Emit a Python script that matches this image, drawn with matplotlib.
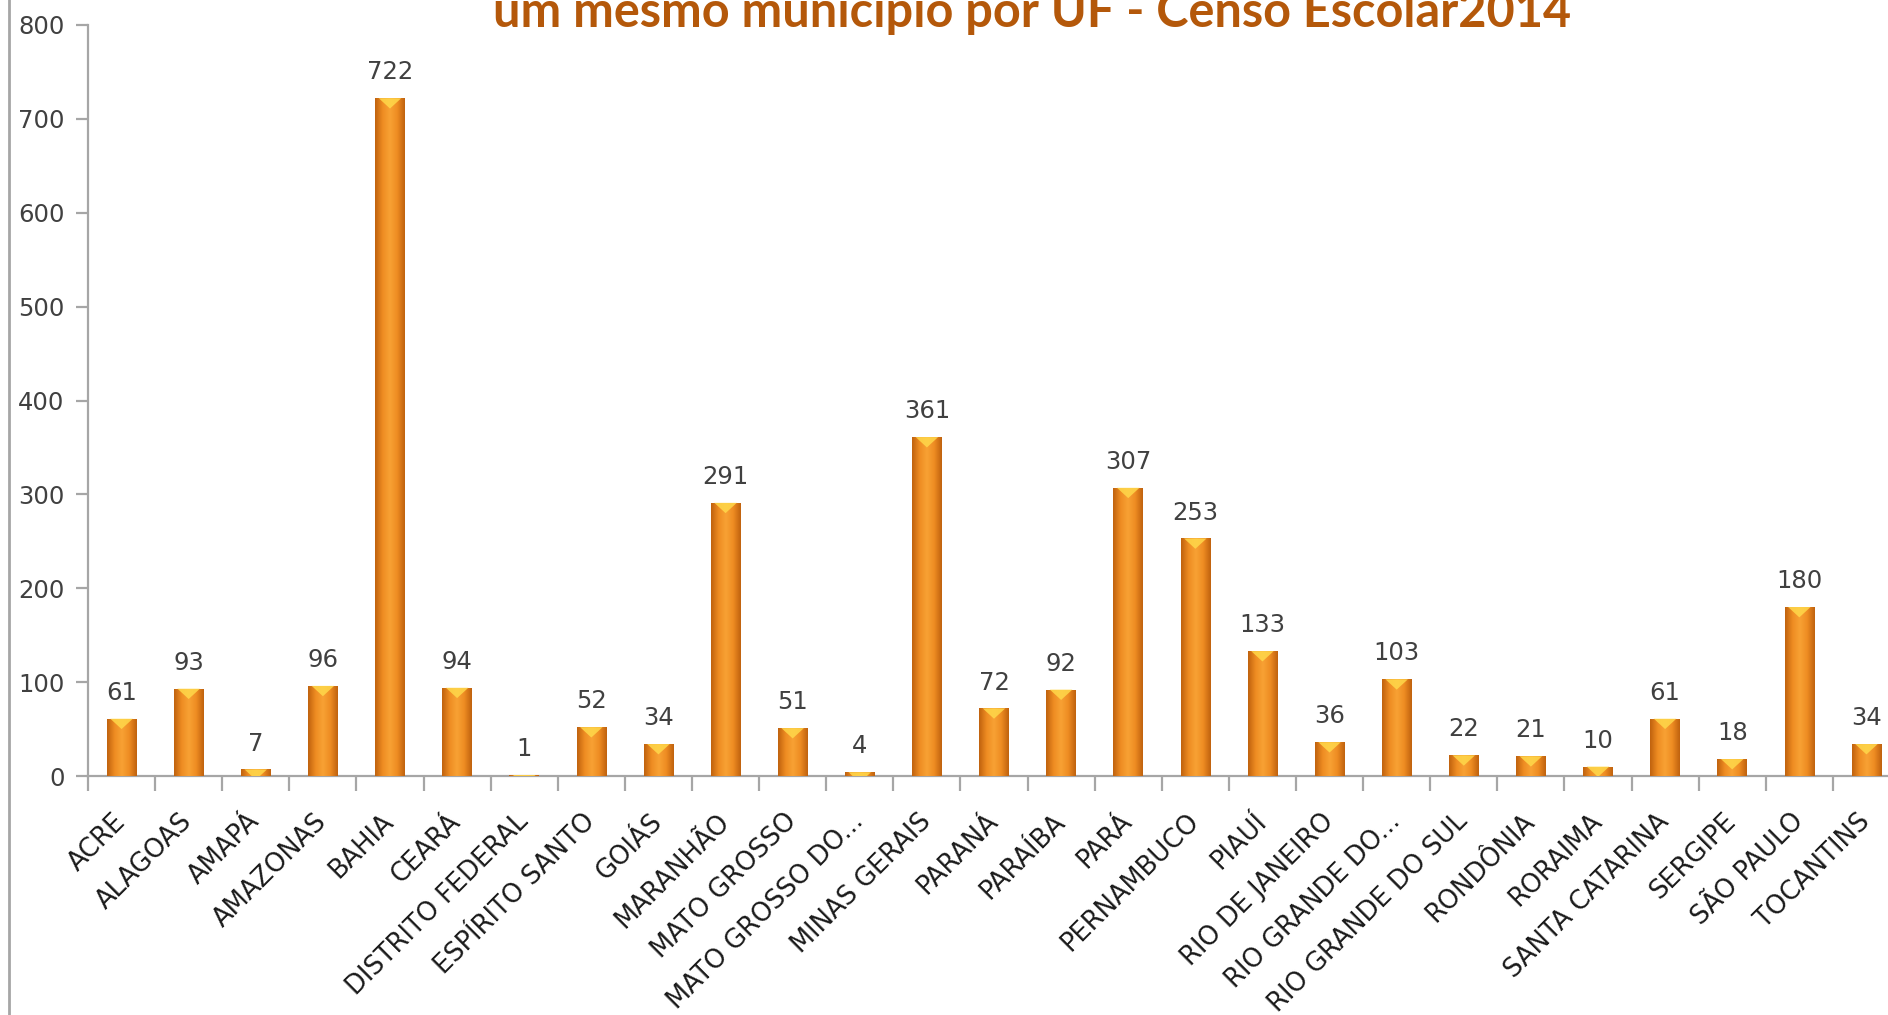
"""Escolas por UF - Censo Escolar 2014 (bar chart recreation)."""

import matplotlib

matplotlib.use("Agg")
import matplotlib.pyplot as plt
import numpy as np
from matplotlib.colors import LinearSegmentedColormap
from matplotlib.lines import Line2D
from matplotlib.patches import Polygon

# --- data -------------------------------------------------------------
states = [
    "ACRE", "ALAGOAS", "AMAPÁ", "AMAZONAS", "BAHIA", "CEARÁ",
    "DISTRITO FEDERAL", "ESPÍRITO SANTO", "GOIÁS", "MARANHÃO",
    "MATO GROSSO", "MATO GROSSO DO...", "MINAS GERAIS", "PARANÁ",
    "PARAÍBA", "PARÁ", "PERNAMBUCO", "PIAUÍ", "RIO DE JANEIRO",
    "RIO GRANDE DO...", "RIO GRANDE DO SUL", "RONDÔNIA", "RORAIMA",
    "SANTA CATARINA", "SERGIPE", "SÃO PAULO", "TOCANTINS",
]
counts = [
    61, 93, 7, 96, 722, 94,
    1, 52, 34, 291,
    51, 4, 361, 72,
    92, 307, 253, 133, 36,
    103, 22, 21, 10,
    61, 18, 180, 34,
]
yticks = [0, 100, 200, 300, 400, 500, 600, 700, 800]
title = "um mesmo municipio por UF - Censo Escolar2014"

# --- style ------------------------------------------------------------
W, H = 1888, 1015
AXIS_GRAY = "#a6a6a6"
TEXT_GRAY = "#404040"
bar_cmap = LinearSegmentedColormap.from_list(
    "bar", ["#c0620e", "#ee8c22", "#f8a234", "#ee8c22", "#c0620e"]
)

fig = plt.figure(figsize=(W / 100, H / 100), dpi=100)
ax = fig.add_axes([88 / W, 239 / H, 1812 / W, 751 / H])

x = np.arange(len(states))
bar_w = 0.44
bars = ax.bar(x, counts, width=bar_w, color="#ee8c22", edgecolor="none", zorder=2)

# horizontal gradient + light cap on each bar
grad = np.linspace(0, 1, 64).reshape(1, -1)
for rect, v in zip(bars, counts):
    x0 = rect.get_x()
    w = rect.get_width()
    im = ax.imshow(
        grad, cmap=bar_cmap, extent=(x0, x0 + w, 0, v),
        aspect="auto", zorder=3, interpolation="bicubic",
    )
    im.set_clip_path(rect)
    cap = Polygon(
        [(x0 + w * 0.12, v), (x0 + w * 0.88, v), (x0 + w / 2, v - 11)],
        closed=True, facecolor="#ffd84a", edgecolor="none", alpha=0.85, zorder=4,
    )
    cap.set_clip_path(rect)
    ax.add_patch(cap)
    ax.annotate(
        str(v), (x0 + w / 2, v), xytext=(0, 10), textcoords="offset points",
        ha="center", va="bottom", fontsize=17.5, color=TEXT_GRAY,
    )

ax.set_xlim(-0.5, len(states) - 0.5)
ax.set_ylim(0, 800)

# ticks between categories, labels at centers
ax.set_xticks(np.arange(-0.5, len(states), 1))
ax.set_xticklabels([])
ax.set_xticks(x, minor=True)
ax.set_xticklabels(
    states, minor=True, rotation=45, ha="right", va="center",
    rotation_mode="anchor", fontsize=18.5, color="#1a1a1a",
)
ax.tick_params(axis="x", which="major", direction="out", length=11,
               width=1.6, color=AXIS_GRAY)
ax.tick_params(axis="x", which="minor", length=0, pad=30)

ax.set_yticks(yticks)
ax.tick_params(axis="y", direction="out", length=9, width=1.6,
               color=AXIS_GRAY, pad=8, labelsize=17.5, labelcolor=TEXT_GRAY)

for side in ("top", "right"):
    ax.spines[side].set_visible(False)
for side in ("left", "bottom"):
    ax.spines[side].set_color(AXIS_GRAY)
    ax.spines[side].set_linewidth(1.6)
ax.spines["left"].set_zorder(5)

# title (partly cut off at the top, as in the source)
fig.text(1032 / W, 1 - 27 / H, title, ha="center", va="baseline",
         fontsize=35, fontweight="bold", color="#b4580a",
         family=["Lato", "DejaVu Sans"])

# left frame border
fig.add_artist(Line2D([9 / W, 9 / W], [0, 1], transform=fig.transFigure,
                      color=AXIS_GRAY, linewidth=2))

fig.savefig("out.png", dpi=100)
plt.close(fig)
